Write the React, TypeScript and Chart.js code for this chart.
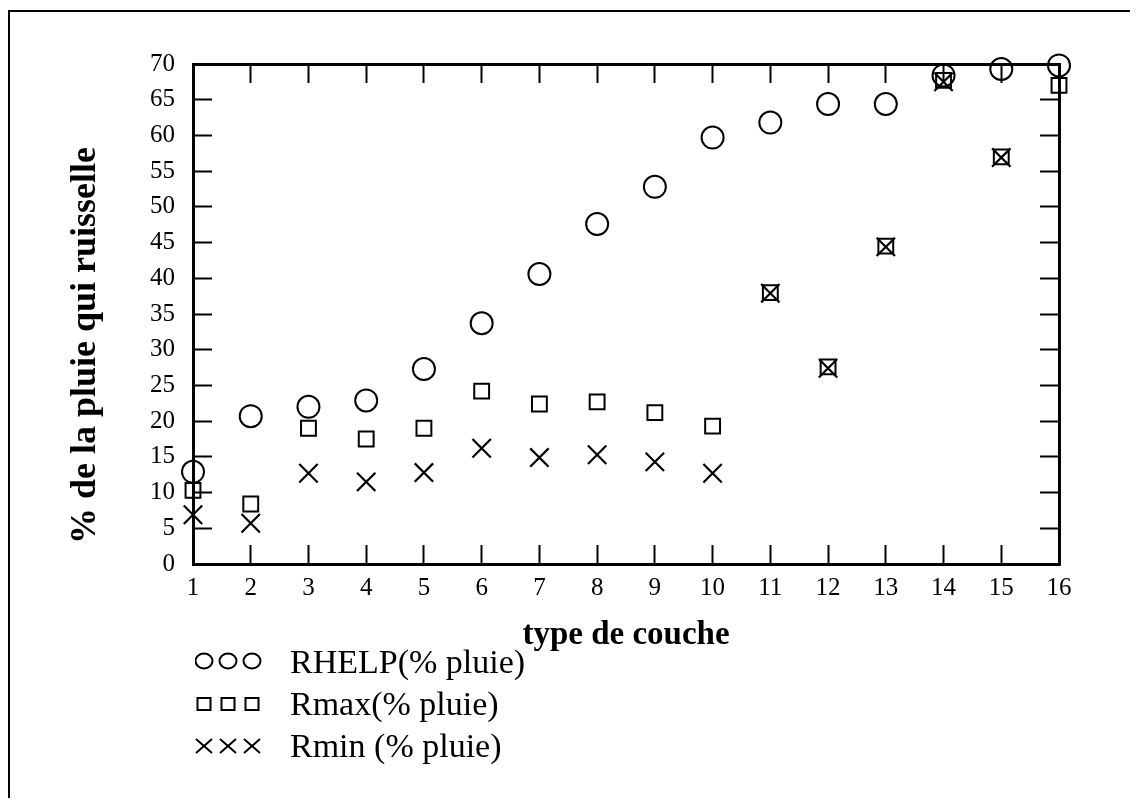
import React, { useEffect, useRef } from 'react';
import { Chart, registerables } from 'chart.js';

Chart.register(...registerables);

// ---- data ----
const layerTypes = [1, 2, 3, 4, 5, 6, 7, 8, 9, 10, 11, 12, 13, 14, 15, 16];
const rhelp = [12.9, 20.7, 22.0, 22.9, 27.3, 33.7, 40.6, 47.6, 52.8, 59.7, 61.8, 64.4, 64.4, 68.4, 69.3, 69.8];
const rmax = [10.3, 8.4, 19.0, 17.5, 19.0, 24.2, 22.4, 22.7, 21.2, 19.3, 38.0, 27.6, 44.5, 67.7, 57.0, 67.0];
const rmin = [6.9, 5.7, 12.7, 11.5, 12.8, 16.2, 14.9, 15.3, 14.3, 12.7, 37.9, 27.4, 44.4, 67.5, 56.9, null];
const seriesLabels = ['RHELP(% pluie)', 'Rmax(% pluie)', 'Rmin (% pluie)'];
const xTitle = 'type de couche';
const yTitle = '% de la pluie qui ruisselle';
const yMin = 0;
const yMax = 70;
const yStep = 5;

const FONT = "'Liberation Serif', 'Times New Roman', Times, serif";

function toPoints(vals: (number | null)[]) {
  return vals
    .map((v, i) => (v === null ? null : { x: layerTypes[i], y: v }))
    .filter((p) => p !== null) as { x: number; y: number }[];
}

const tickGrid = {
  display: true,
  drawOnChartArea: false,
  drawTicks: true,
  tickLength: -19,
  tickWidth: 2,
  tickColor: '#000',
};
const axisBorder = { display: true, color: '#000', width: 3 };

function LegendMarker({ kind }: { kind: string }) {
  const xs = [9, 33, 57];
  return (
    <svg width={70} height={24} style={{ display: 'block' }}>
      {xs.map((cx, i) => {
        if (kind === 'circle') {
          return <ellipse key={i} cx={cx} cy={11} rx={8.5} ry={7.5} fill="none" stroke="#000" strokeWidth={2} />;
        }
        if (kind === 'rect') {
          return <rect key={i} x={cx - 6.5} y={6} width={13} height={12} fill="none" stroke="#000" strokeWidth={2} />;
        }
        return (
          <g key={i} stroke="#000" strokeWidth={2}>
            <line x1={cx - 8} y1={5} x2={cx + 8} y2={19} />
            <line x1={cx - 8} y1={19} x2={cx + 8} y2={5} />
          </g>
        );
      })}
    </svg>
  );
}

export default function App() {
  const canvasRef = useRef<HTMLCanvasElement | null>(null);

  useEffect(() => {
    const canvas = canvasRef.current;
    if (!canvas) return;
    Chart.defaults.font.family = FONT;
    Chart.defaults.color = '#000';

    const common = {
      showLine: false,
      borderColor: '#000',
      backgroundColor: 'rgba(0,0,0,0)',
      pointBorderColor: '#000',
      pointBackgroundColor: 'rgba(0,0,0,0)',
      clip: false as const,
    };

    const chart = new Chart(canvas, {
      type: 'scatter',
      data: {
        datasets: [
          { ...common, label: seriesLabels[0], data: toPoints(rhelp), pointStyle: 'circle', pointRadius: 11, pointBorderWidth: 2 },
          { ...common, label: seriesLabels[1], data: toPoints(rmax), pointStyle: 'rect', pointRadius: 10.5, pointBorderWidth: 2 },
          { ...common, label: seriesLabels[2], data: toPoints(rmin), pointStyle: 'crossRot', pointRadius: 13, pointBorderWidth: 2.2 },
        ],
      },
      options: {
        animation: false,
        responsive: false,
        maintainAspectRatio: false,
        events: [],
        layout: { padding: { left: 0, right: 71, top: 56, bottom: 134 } },
        plugins: { legend: { display: false }, tooltip: { enabled: false } },
        scales: {
          x: {
            type: 'linear',
            position: 'bottom',
            min: layerTypes[0],
            max: layerTypes[layerTypes.length - 1],
            ticks: { stepSize: 1, autoSkip: false, padding: 28, font: { size: 25 }, color: '#000' },
            grid: tickGrid,
            border: axisBorder,
            title: {
              display: true,
              text: xTitle,
              color: '#000',
              font: { size: 33, weight: 'bold' },
              padding: { top: 0, bottom: 9 },
            },
            afterFit: (s: any) => {
              s.height = 100;
            },
          },
          y: {
            type: 'linear',
            position: 'left',
            min: yMin,
            max: yMax,
            ticks: { stepSize: yStep, autoSkip: false, padding: 37, font: { size: 25 }, color: '#000' },
            grid: tickGrid,
            border: axisBorder,
            title: {
              display: true,
              text: yTitle + '\u00A0\u00A0\u00A0\u00A0\u00A0\u00A0\u00A0',
              color: '#000',
              font: { size: 36, weight: 'bold' },
              padding: { top: 56, bottom: 0 },
            },
            afterFit: (s: any) => {
              s.width = 185;
            },
          },
          x2: {
            type: 'linear',
            position: 'top',
            min: layerTypes[0],
            max: layerTypes[layerTypes.length - 1],
            ticks: { stepSize: 1, autoSkip: false, display: false },
            grid: tickGrid,
            border: axisBorder,
            afterFit: (s: any) => {
              s.height = 0;
            },
          },
          y2: {
            type: 'linear',
            position: 'right',
            min: yMin,
            max: yMax,
            ticks: { stepSize: yStep, autoSkip: false, display: false },
            grid: tickGrid,
            border: axisBorder,
            afterFit: (s: any) => {
              s.width = 0;
            },
          },
        },
      } as any,
    });

    return () => {
      chart.destroy();
    };
  }, []);

  const markers = ['circle', 'rect', 'cross'];

  return (
    <div style={{ position: 'relative', width: 1122, height: 790, background: '#fff' }}>
      <div
        style={{
          position: 'absolute',
          left: 0,
          top: 2,
          width: 1122,
          height: 788,
          borderLeft: '2px solid #000',
          borderTop: '2px solid #000',
          boxSizing: 'border-box',
        }}
      />
      <canvas
        ref={canvasRef}
        width={1122}
        height={790}
        style={{ position: 'absolute', left: 0, top: 0, width: 1122, height: 790 }}
      />
      <div style={{ position: 'absolute', left: 187, top: 633, fontFamily: FONT, fontSize: 34, color: '#000' }}>
        {seriesLabels.map((lab, i) => (
          <div key={lab} style={{ display: 'flex', alignItems: 'center', height: 42, lineHeight: '42px' }}>
            <div style={{ width: 95 }}>
              <LegendMarker kind={markers[i]} />
            </div>
            <span style={{ whiteSpace: 'nowrap' }}>{lab}</span>
          </div>
        ))}
      </div>
    </div>
  );
}
